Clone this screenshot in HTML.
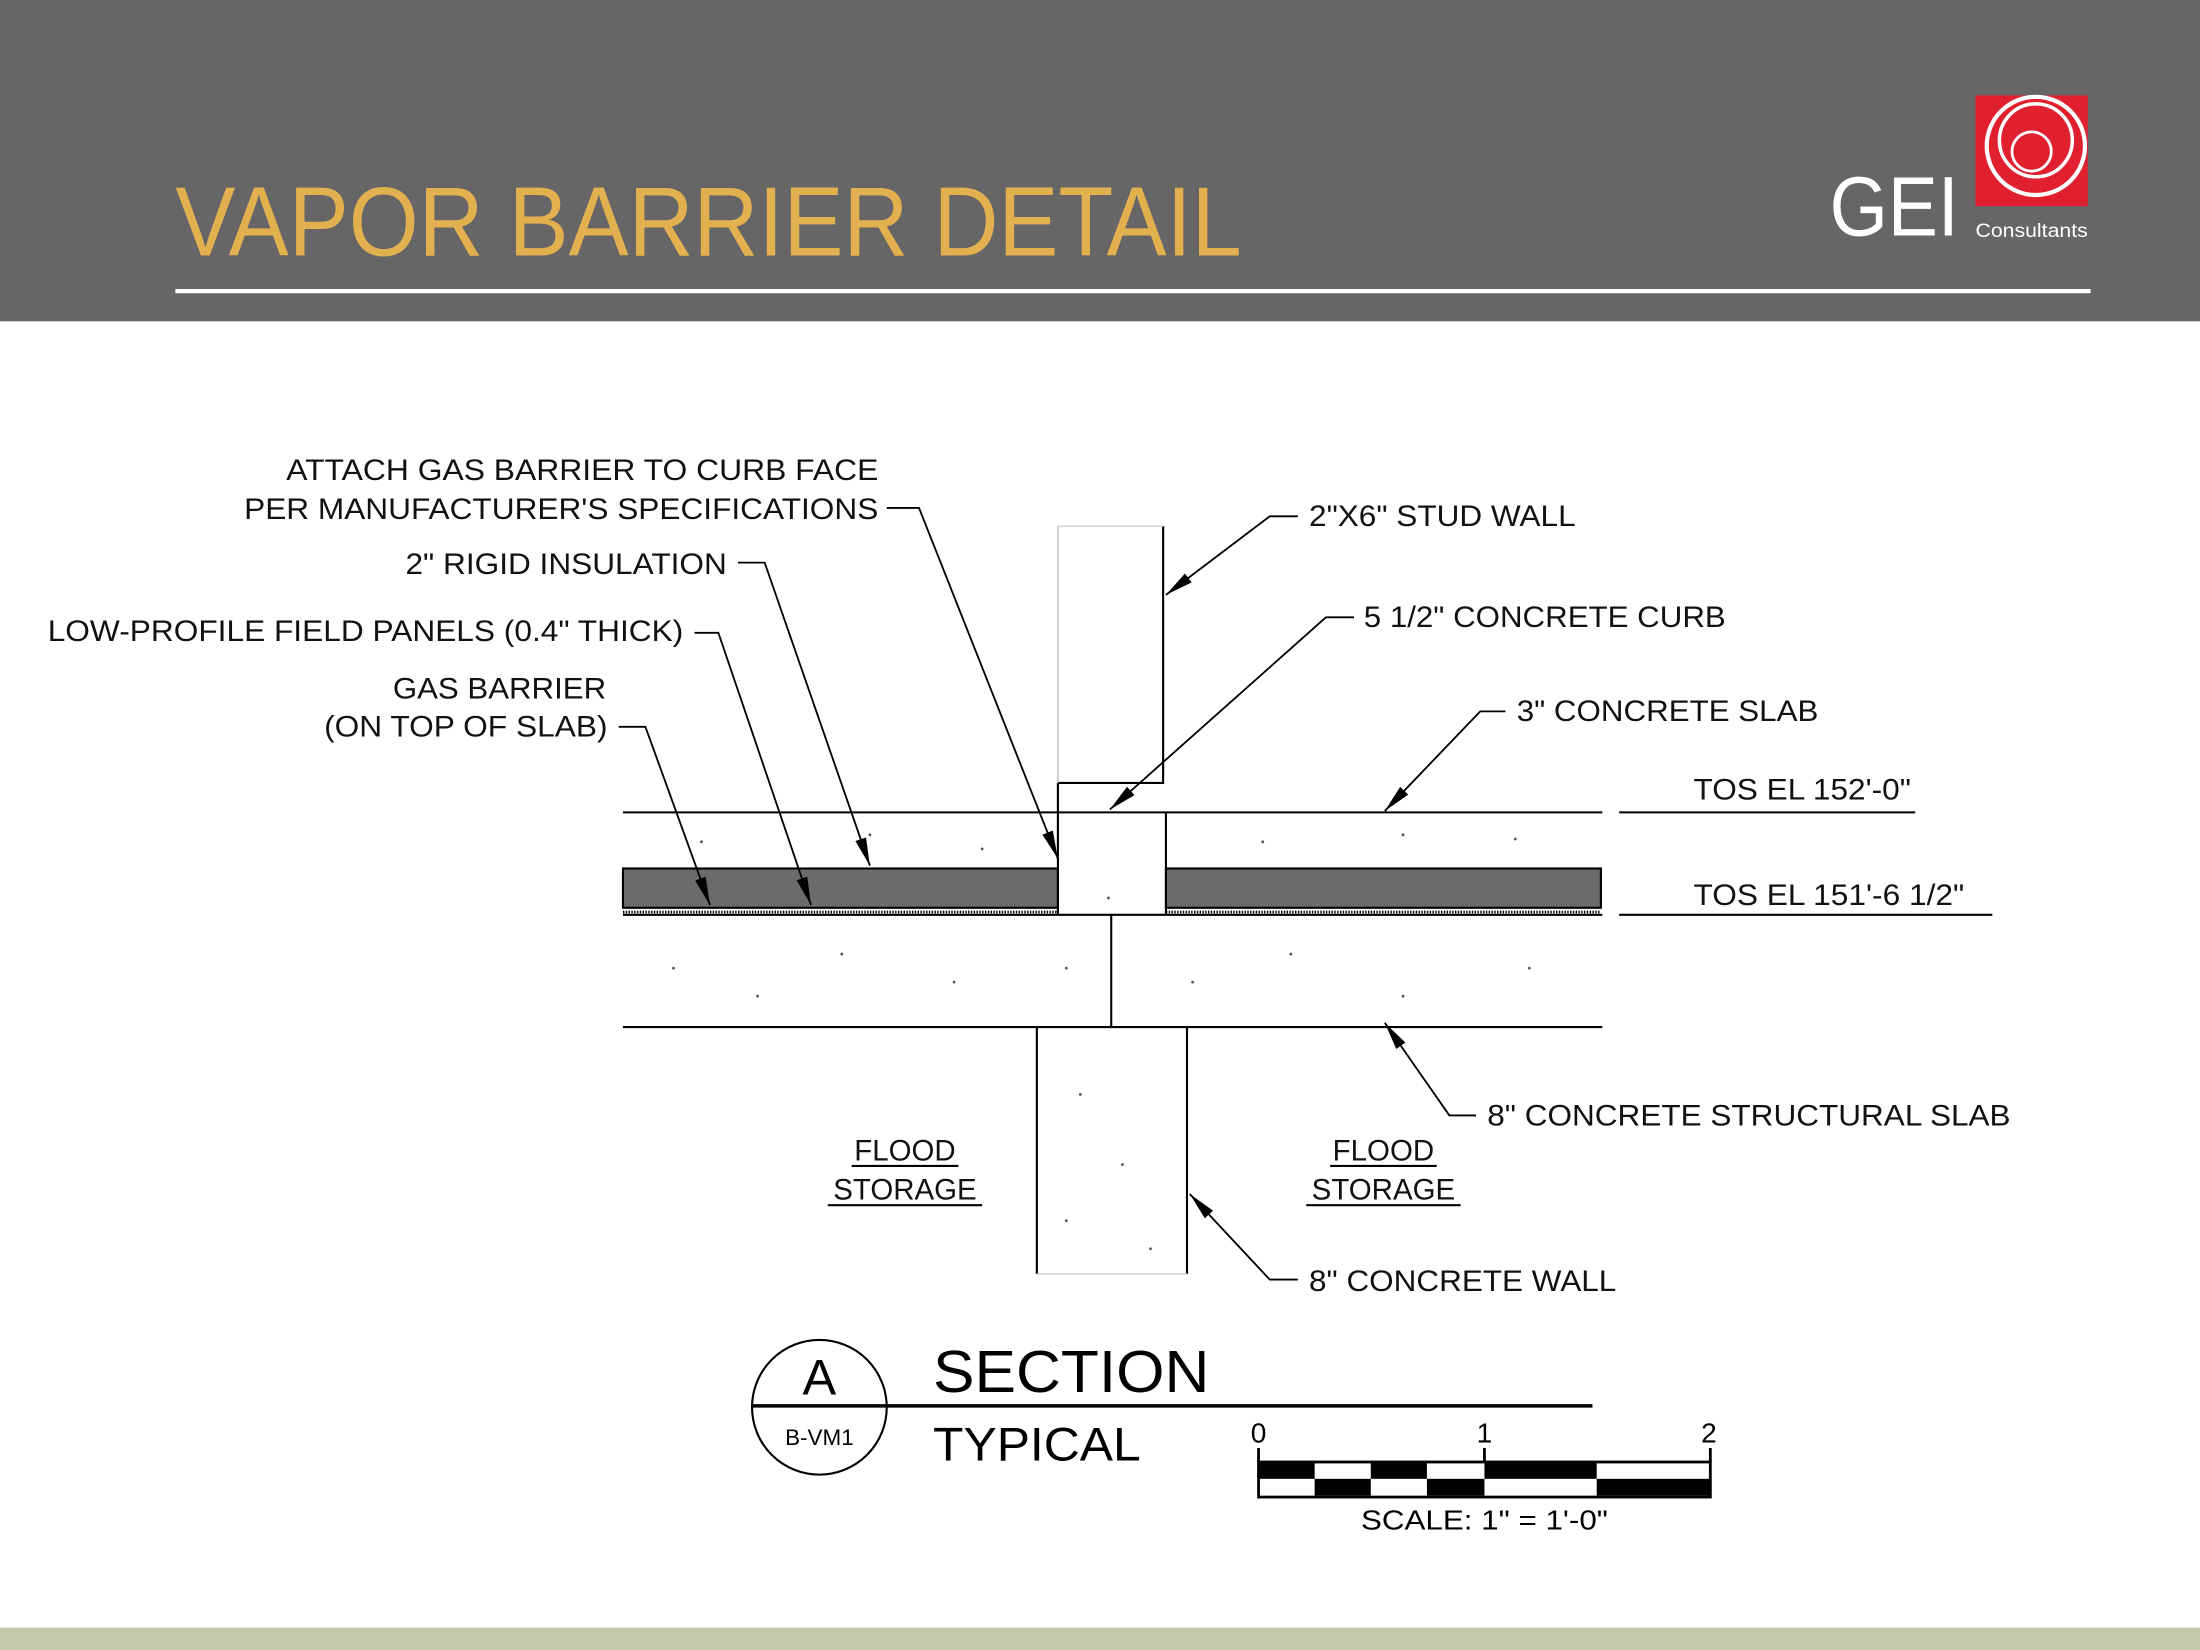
<!DOCTYPE html>
<html><head><meta charset="utf-8"><style>
html,body{margin:0;padding:0;background:#fff}
svg{display:block}
text{font-family:"Liberation Sans Narrow","Liberation Sans",sans-serif}
</style></head><body>
<svg width="2200" height="1650" viewBox="0 0 1568 1176" xmlns="http://www.w3.org/2000/svg">
<defs>
<marker id="ar" viewBox="0 0 20 8" refX="20" refY="4" markerWidth="20" markerHeight="8" markerUnits="userSpaceOnUse" orient="auto">
<path d="M0,0 L20,4 L0,8 Z" fill="#000"/></marker>
</defs>
<rect x="0" y="0" width="1568" height="229" fill="#666666"/>
<text x="125" y="182" font-size="70" fill="#e3b04f" textLength="760" lengthAdjust="spacingAndGlyphs" font-family="Liberation Sans, sans-serif">VAPOR BARRIER DETAIL</text>
<rect x="125" y="206" width="1365" height="3" fill="#fff"/>
<text x="1304" y="168" font-size="60" fill="#fff" textLength="92" lengthAdjust="spacingAndGlyphs" font-family="Liberation Sans, sans-serif">GEI</text>
<text x="1408" y="169" font-size="14" fill="#fff" textLength="80" lengthAdjust="spacingAndGlyphs" font-family="Liberation Sans, sans-serif">Consultants</text>
<rect x="1408" y="68" width="80" height="79" fill="#e0202e"/>
<g fill="none" stroke="#fff" stroke-width="3">
<circle cx="1451" cy="104" r="35"/><circle cx="1451" cy="100" r="26" stroke-width="2.5"/><circle cx="1448" cy="108" r="14" stroke-width="2"/></g>
<rect x="0" y="1160" width="1568" height="16" fill="#c6c8b0"/>

<g stroke="#000" fill="none" stroke-width="1.5">
<rect x="444" y="619" width="310" height="28" fill="#6b6b6b" stroke="#000"/>
<rect x="831" y="619" width="310" height="28" fill="#6b6b6b" stroke="#000"/>
<line x1="444" y1="650" x2="754" y2="650" stroke-dasharray="1 1" stroke-width="2"/>
<line x1="831" y1="650" x2="1141" y2="650" stroke-dasharray="1 1" stroke-width="2"/>
<line x1="444" y1="579" x2="1142" y2="579"/>
<line x1="444" y1="652" x2="1142" y2="652"/>
<line x1="444" y1="732" x2="1142" y2="732"/>
<line x1="754" y1="558" x2="754" y2="652"/>
<line x1="831" y1="579" x2="831" y2="652"/>
<polyline points="754,558 829,558 829,375"/>
<line x1="754" y1="375" x2="754" y2="558" stroke="#bbb" stroke-width="1"/>
<line x1="754" y1="375" x2="829" y2="375" stroke="#ccc" stroke-width="1"/>
<line x1="792" y1="652" x2="792" y2="732"/>
<line x1="739" y1="732" x2="739" y2="908"/>
<line x1="846" y1="732" x2="846" y2="908"/>
<line x1="739" y1="908" x2="846" y2="908" stroke="#ccc" stroke-width="1"/>
<line x1="1154" y1="579" x2="1365" y2="579"/>
<line x1="1154" y1="652" x2="1420" y2="652"/>
</g>
<g fill="#555">
<circle cx="500" cy="600" r="1"/><circle cx="620" cy="595" r="1"/><circle cx="700" cy="605" r="1"/><circle cx="900" cy="600" r="1"/><circle cx="1000" cy="595" r="1"/><circle cx="1080" cy="598" r="1"/>
<circle cx="480" cy="690" r="1"/><circle cx="540" cy="710" r="1"/><circle cx="600" cy="680" r="1"/><circle cx="680" cy="700" r="1"/><circle cx="760" cy="690" r="1"/><circle cx="850" cy="700" r="1"/><circle cx="920" cy="680" r="1"/><circle cx="1000" cy="710" r="1"/><circle cx="1090" cy="690" r="1"/>
<circle cx="770" cy="780" r="1"/><circle cx="800" cy="830" r="1"/><circle cx="760" cy="870" r="1"/><circle cx="820" cy="890" r="1"/><circle cx="790" cy="640" r="1"/>
</g>

<g stroke="#000" stroke-width="1.3" fill="none">
<polyline points="632,362 655,362 754,612" marker-end="url(#ar)"/>
<polyline points="526,401 545,401 620,617" marker-end="url(#ar)"/>
<polyline points="495,451 512,451 578,645" marker-end="url(#ar)"/>
<polyline points="441,518 460,518 506,645" marker-end="url(#ar)"/>
<polyline points="925,368 905,368 831,424" marker-end="url(#ar)"/>
<polyline points="965,440 945,440 791,577" marker-end="url(#ar)"/>
<polyline points="1073,507 1055,507 987,578" marker-end="url(#ar)"/>
<polyline points="1052,795 1033,795 987,729" marker-end="url(#ar)"/>
<polyline points="925,912 905,912 848,851" marker-end="url(#ar)"/>
</g>

<g font-size="21" fill="#111">
<text x="204" y="342" textLength="422" lengthAdjust="spacingAndGlyphs">ATTACH GAS BARRIER TO CURB FACE</text>
<text x="174" y="370" textLength="452" lengthAdjust="spacingAndGlyphs">PER MANUFACTURER'S SPECIFICATIONS</text>
<text x="289" y="409" textLength="229" lengthAdjust="spacingAndGlyphs">2" RIGID INSULATION</text>
<text x="34" y="457" textLength="453" lengthAdjust="spacingAndGlyphs">LOW-PROFILE FIELD PANELS (0.4" THICK)</text>
<text x="280" y="498" textLength="152" lengthAdjust="spacingAndGlyphs">GAS BARRIER</text>
<text x="231" y="525" textLength="202" lengthAdjust="spacingAndGlyphs">(ON TOP OF SLAB)</text>
<text x="933" y="375" textLength="190" lengthAdjust="spacingAndGlyphs">2"X6" STUD WALL</text>
<text x="972" y="447" textLength="258" lengthAdjust="spacingAndGlyphs">5 1/2" CONCRETE CURB</text>
<text x="1081" y="514" textLength="215" lengthAdjust="spacingAndGlyphs">3" CONCRETE SLAB</text>
<text x="1207" y="570" textLength="155" lengthAdjust="spacingAndGlyphs">TOS EL 152'-0"</text>
<text x="1207" y="645" textLength="193" lengthAdjust="spacingAndGlyphs">TOS EL 151'-6 1/2"</text>
<text x="1060" y="802" textLength="373" lengthAdjust="spacingAndGlyphs">8" CONCRETE STRUCTURAL SLAB</text>
<text x="933" y="920" textLength="219" lengthAdjust="spacingAndGlyphs">8" CONCRETE WALL</text>
<text x="645" y="827" text-anchor="middle">FLOOD</text>
<text x="645" y="855" text-anchor="middle">STORAGE</text>
<text x="986" y="827" text-anchor="middle">FLOOD</text>
<text x="986" y="855" text-anchor="middle">STORAGE</text>
</g>
<g stroke="#000" fill="none" stroke-width="1.5">
<line x1="607" y1="831" x2="683" y2="831"/><line x1="590" y1="859" x2="700" y2="859"/>
<line x1="948" y1="831" x2="1024" y2="831"/><line x1="931" y1="859" x2="1041" y2="859"/>
</g>

<circle cx="584" cy="1003" r="48" fill="none" stroke="#000" stroke-width="1.5"/>
<line x1="536" y1="1002" x2="1135" y2="1002" stroke="#000" stroke-width="2.5"/>
<text x="584" y="994" font-size="36" text-anchor="middle" font-family="Liberation Sans, sans-serif">A</text>
<text x="584" y="1030" font-size="16" text-anchor="middle">B-VM1</text>
<text x="665" y="992" font-size="42" textLength="197" lengthAdjust="spacingAndGlyphs" font-family="Liberation Sans, sans-serif">SECTION</text>
<text x="665" y="1041" font-size="34" textLength="148" lengthAdjust="spacingAndGlyphs">TYPICAL</text>
<g font-size="20" text-anchor="middle">
<text x="897" y="1028">0</text><text x="1058" y="1028">1</text><text x="1218" y="1028">2</text>
</g>
<text x="970" y="1090" font-size="20" textLength="176" lengthAdjust="spacingAndGlyphs">SCALE: 1" = 1'-0"</text>
<g fill="#000">
<rect x="897" y="1042" width="40" height="12"/><rect x="937" y="1054" width="40" height="12"/>
<rect x="977" y="1042" width="40" height="12"/><rect x="1017" y="1054" width="41" height="12"/>
<rect x="1058" y="1042" width="80" height="12"/><rect x="1138" y="1054" width="81" height="12"/>
</g>
<g stroke="#000" stroke-width="2" fill="none">
<rect x="897" y="1042" width="322" height="25"/>
<line x1="897" y1="1032" x2="897" y2="1042"/><line x1="1058" y1="1032" x2="1058" y2="1042"/><line x1="1219" y1="1032" x2="1219" y2="1042"/>
</g>
</svg>
</body></html>
